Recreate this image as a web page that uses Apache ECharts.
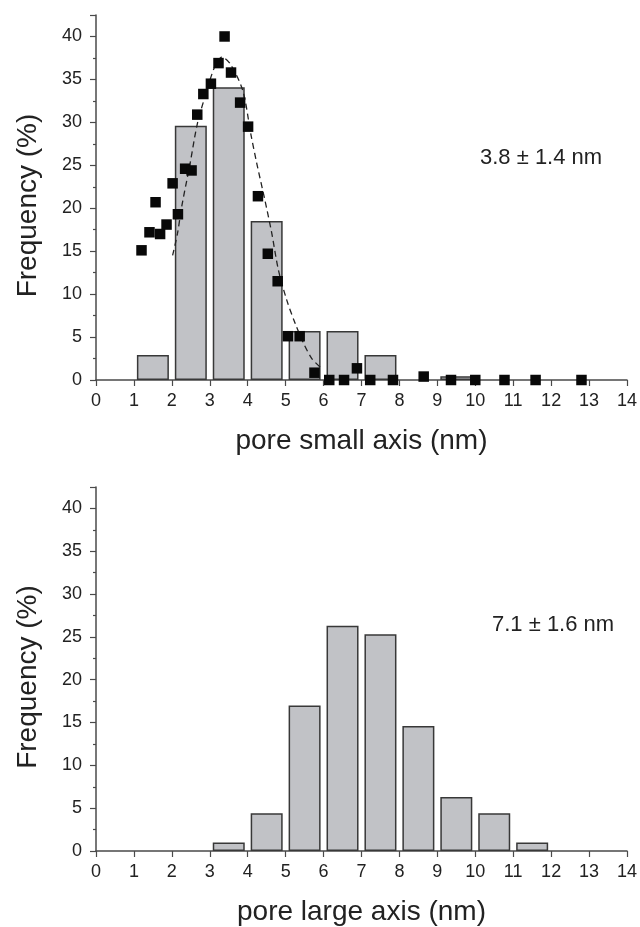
<!DOCTYPE html>
<html>
<head>
<meta charset="utf-8">
<script src="https://cdn.jsdelivr.net/npm/echarts@6/dist/echarts.min.js"></script>
<style>
  html, body { margin: 0; padding: 0; background: #fff; }
  #chart { width: 640px; height: 927px; }
</style>
</head>
<body>
<div id="chart"></div>
<script>
// pore small axis histogram: bin centres (nm) and frequency (%)
const smallBins = [1.5, 2.5, 3.5, 4.5, 5.5, 6.5, 7.5, 9.5];
const smallFreq = [2.9, 29.6, 34.1, 18.5, 5.7, 5.7, 2.9, 0.45];

// measured points (squares)
const pointX = [1.20, 1.41, 1.57, 1.69, 1.86, 2.02, 2.16, 2.35, 2.52, 2.67, 2.83, 3.03, 3.23, 3.39,
  3.56, 3.80, 4.01, 4.27, 4.53, 4.79, 5.06, 5.37, 5.76, 6.15, 6.54, 6.88, 7.23, 7.83, 8.64,
  9.36, 10.0, 10.77, 11.59, 12.8];
const pointY = [15.1, 17.2, 20.7, 17.0, 18.1, 22.9, 19.3, 24.6, 24.4, 30.9, 33.3, 34.5, 36.9, 40.0,
  35.8, 32.3, 29.5, 21.4, 14.7, 11.5, 5.1, 5.1, 0.85, 0, 0, 1.36, 0, 0, 0.4,
  0, 0, 0, 0, 0];

// dashed fit curve
const fitX = [2.02, 2.15, 2.26, 2.48, 2.67, 2.86, 3.14, 3.32, 3.54, 3.87, 4.08, 4.24, 4.46, 4.63,
  4.81, 5.03, 5.25, 5.47, 5.69, 5.91];
const fitY = [14.5, 17.1, 20.2, 25.2, 29.8, 32.8, 36.6, 37.6, 36.8, 33.7, 28.7, 25.2, 20.8, 17.2,
  12.8, 9.3, 6.6, 4.3, 2.5, 1.5];

// pore large axis histogram
const largeBins = [3.5, 4.5, 5.5, 6.5, 7.5, 8.5, 9.5, 10.5, 11.5];
const largeFreq = [1.0, 4.4, 17.0, 26.3, 25.3, 14.6, 6.3, 4.4, 1.0];

const notes = ['3.8 \u00b1 1.4 nm', '7.1 \u00b1 1.6 nm'];
const xNames = ['pore small axis (nm)', 'pore large axis (nm)'];

const FONT = 'Liberation Sans';
const axisColor = '#4a4a4a';
const textColor = '#222';

function xAxisFor(i) {
  return {
    type: 'value', gridIndex: i, min: 0, max: 14, interval: 1,
    name: xNames[i], nameLocation: 'middle', nameGap: 47,
    nameTextStyle: { fontFamily: FONT, fontSize: 28, color: textColor },
    axisLine: { show: true, lineStyle: { color: axisColor, width: 1.5 } },
    axisTick: { show: true, inside: false, length: 6, lineStyle: { color: axisColor, width: 1.2 } },
    axisLabel: { fontFamily: FONT, fontSize: 18, color: textColor, margin: 12 },
    splitLine: { show: false }
  };
}

function yAxisFor(i) {
  return {
    type: 'value', gridIndex: i, min: 0, max: 42.5, interval: 5,
    name: 'Frequency (%)', nameLocation: 'middle', nameGap: 54, nameRotate: 90,
    nameTextStyle: { fontFamily: FONT, fontSize: 28, color: textColor, padding: [0, 16, 0, 0] },
    axisLine: { show: true, lineStyle: { color: axisColor, width: 1.5 } },
    axisTick: { show: true, inside: false, length: 6, lineStyle: { color: axisColor, width: 1.2 } },
    minorTick: { show: true, splitNumber: 2, length: 3, lineStyle: { color: axisColor, width: 1.2 } },
    axisLabel: { fontFamily: FONT, fontSize: 18, color: textColor, margin: 14, showMaxLabel: false },
    splitLine: { show: false }
  };
}

const barStyle = { color: '#c1c2c6', borderColor: '#383838', borderWidth: 1.5 };

const chart = echarts.init(document.getElementById('chart'), null, { renderer: 'canvas' });
chart.setOption({
  animation: false,
  backgroundColor: '#fff',
  grid: [
    { left: 96, right: 13, top: 15, height: 365 },
    { left: 96, right: 13, top: 487, height: 365 }
  ],
  xAxis: [xAxisFor(0), xAxisFor(1)],
  yAxis: [yAxisFor(0), yAxisFor(1)],
  graphic: [
    { type: 'text', left: 480, top: 147, style: { text: notes[0], font: '22px "Liberation Sans"', fill: textColor } },
    { type: 'text', left: 492, top: 614, style: { text: notes[1], font: '22px "Liberation Sans"', fill: textColor } }
  ],
  series: [
    {
      type: 'bar', xAxisIndex: 0, yAxisIndex: 0, barWidth: 32,
      data: smallBins.map((x, i) => [x, smallFreq[i]]),
      itemStyle: barStyle
    },
    {
      type: 'line', xAxisIndex: 0, yAxisIndex: 0, smooth: 0.3, showSymbol: false, z: 3,
      data: fitX.map((x, i) => [x, fitY[i]]),
      lineStyle: { color: '#222', width: 1.3, type: [6, 4] }
    },
    {
      type: 'scatter', xAxisIndex: 0, yAxisIndex: 0, symbol: 'rect', symbolSize: 10.5, z: 4,
      data: pointX.map((x, i) => [x, pointY[i]]),
      itemStyle: { color: '#080808', opacity: 1 }
    },
    {
      type: 'bar', xAxisIndex: 1, yAxisIndex: 1, barWidth: 32,
      data: largeBins.map((x, i) => [x, largeFreq[i]]),
      itemStyle: barStyle
    }
  ]
});
</script>
</body>
</html>
